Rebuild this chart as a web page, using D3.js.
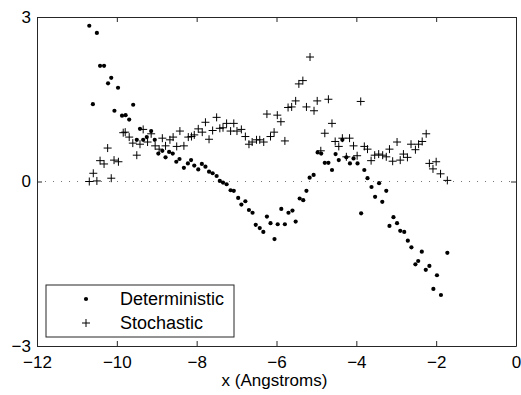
<!DOCTYPE html>
<html>
<head>
<meta charset="utf-8">
<script src="https://cdn.jsdelivr.net/npm/d3@7"></script>
<style>
  body { margin: 0; background: #fff; }
  text { font-family: "Liberation Sans", Arial, sans-serif; }
</style>
</head>
<body>
<svg id="chart" width="521" height="395"></svg>
<script>
// Deterministic series (x in Angstroms, y)
const detX = [-10.69,-10.60,-10.50,-10.42,-10.32,-10.22,-10.14,-10.06,-9.97,-9.87,-9.78,-9.69,-9.59,-9.50,-9.42,-9.34,-9.25,-9.14,-9.05,-8.96,
  -8.86,-8.78,-8.69,-8.60,-8.51,-8.43,-8.32,-8.22,-8.14,-8.06,-7.96,-7.87,-7.78,-7.69,-7.60,-7.50,-7.42,-7.34,-7.25,-7.15,
  -7.07,-6.96,-6.88,-6.78,-6.69,-6.60,-6.52,-6.42,-6.33,-6.24,-6.15,-6.05,-5.97,-5.88,-5.79,-5.70,-5.60,-5.52,-5.42,-5.33,
  -5.25,-5.17,-5.07,-4.97,-4.88,-4.79,-4.70,-4.61,-4.52,-4.44,-4.35,-4.25,-4.16,-4.07,-3.97,-3.88,-3.80,-3.72,-3.62,-3.53,
  -3.43,-3.35,-3.25,-3.17,-3.07,-2.98,-2.90,-2.80,-2.71,-2.62,-2.52,-2.45,-2.36,-2.26,-2.17,-2.07,-1.98,-1.88,-1.72];
const detY = [2.84,1.41,2.71,2.11,2.11,1.79,1.89,1.29,1.71,1.20,1.21,1.13,1.40,0.76,0.96,0.76,0.81,0.92,0.76,0.51,
  0.56,0.44,0.54,0.51,0.36,0.41,0.25,0.33,0.39,0.29,0.22,0.32,0.27,0.18,0.15,0.10,0.01,-0.02,-0.05,-0.16,
  -0.17,-0.30,-0.42,-0.36,-0.52,-0.57,-0.79,-0.85,-0.92,-0.64,-0.76,-1.05,-0.78,-0.50,-0.78,-0.57,-0.53,-0.73,-0.31,-0.34,
  -0.17,0.07,0.12,0.53,0.51,0.34,0.34,0.21,0.50,0.39,0.76,0.44,0.33,0.42,0.33,-0.58,0.21,0.06,-0.10,-0.28,
  -0.03,-0.37,-0.17,-0.81,-0.65,-0.76,-0.90,-0.92,-1.08,-1.20,-1.51,-1.45,-1.28,-1.61,-1.54,-1.96,-1.71,-2.07,-1.30];

// Stochastic series
const stoX = [-10.69,-10.59,-10.50,-10.42,-10.32,-10.23,-10.14,-10.07,-9.96,-9.84,-9.79,-9.69,-9.60,-9.50,-9.42,-9.34,-9.23,-9.14,-9.04,-8.94,
  -8.86,-8.78,-8.67,-8.59,-8.50,-8.42,-8.32,-8.21,-8.13,-8.06,-7.96,-7.86,-7.78,-7.69,-7.60,-7.50,-7.42,-7.34,-7.25,-7.15,
  -7.07,-6.99,-6.88,-6.78,-6.69,-6.61,-6.50,-6.42,-6.32,-6.24,-6.15,-6.06,-5.98,-5.89,-5.79,-5.71,-5.62,-5.52,-5.44,-5.34,
  -5.25,-5.16,-5.06,-4.98,-4.89,-4.79,-4.70,-4.61,-4.53,-4.44,-4.35,-4.25,-4.17,-4.07,-3.98,-3.89,-3.80,-3.72,-3.63,-3.54,
  -3.44,-3.34,-3.25,-3.17,-3.09,-2.98,-2.90,-2.82,-2.72,-2.63,-2.52,-2.44,-2.35,-2.25,-2.17,-2.08,-2.00,-1.89,-1.72];
const stoY = [0.00,0.15,0.01,0.38,0.32,0.61,0.06,0.39,0.36,0.89,0.90,0.81,0.70,0.48,0.68,0.95,0.72,0.87,0.65,0.59,
  0.79,0.65,0.76,0.81,0.64,0.92,0.65,0.81,0.82,0.85,0.96,0.90,1.08,0.77,0.93,1.17,0.97,0.98,1.06,0.92,
  1.06,0.92,0.95,0.82,0.68,0.72,0.76,0.76,0.72,1.23,0.82,0.90,1.21,1.09,0.74,1.35,1.36,1.47,1.78,1.84,
  1.36,2.27,1.29,1.47,0.56,0.88,1.50,1.06,0.73,0.64,0.79,0.45,0.79,0.65,0.47,1.46,0.64,0.59,0.38,0.48,
  0.50,0.48,0.45,0.59,0.37,0.72,0.39,0.50,0.44,0.68,0.58,0.68,0.73,0.87,0.33,0.23,0.36,0.14,0.02];

const xTicks = [-12, -10, -8, -6, -4, -2, 0];
const yTicks = [-3, 0, 3];
const seriesNames = ["Deterministic", "Stochastic"];

const margin = { top: 17, right: 5, bottom: 49, left: 37 };
const width = 521 - margin.left - margin.right;
const height = 395 - margin.top - margin.bottom;
const axisColor = "#262626";

const svg = d3.select("#chart");
const g = svg.append("g").attr("transform", `translate(${margin.left},${margin.top})`);

const x = d3.scaleLinear().domain([-12, 0]).range([0, width]);
const y = d3.scaleLinear().domain([-3, 3]).range([height, 0]);

// zero reference line
g.append("line")
  .attr("x1", 0).attr("x2", width)
  .attr("y1", y(0)).attr("y2", y(0))
  .attr("stroke", "#777").attr("stroke-width", 1)
  .attr("stroke-dasharray", "1,7");

// data
const det = detX.map((v, i) => [v, detY[i]]);
const sto = stoX.map((v, i) => [v, stoY[i]]);

g.selectAll("circle.det")
  .data(det)
  .enter()
  .append("circle")
  .attr("class", "det")
  .attr("cx", d => x(d[0]))
  .attr("cy", d => y(d[1]))
  .attr("r", 2.1)
  .attr("fill", "#000");

const plus = (sel, s) => sel.attr("d", `M${-s},0H${s}M0,${-s}V${s}`)
  .attr("stroke", "#000").attr("stroke-width", 1).attr("fill", "none");

g.selectAll("path.sto")
  .data(sto)
  .enter()
  .append("path")
  .attr("class", "sto")
  .attr("transform", d => `translate(${x(d[0])},${y(d[1])})`)
  .call(plus, 4);

// axes box with inward ticks
const fmt = d => d3.format("")(d).replace("-", "\u2212");
const axBottom = g.append("g").attr("transform", `translate(0,${height})`)
  .call(d3.axisBottom(x).tickValues(xTicks).tickSizeInner(-5).tickSizeOuter(0).tickPadding(10).tickFormat(fmt));
const axLeft = g.append("g")
  .call(d3.axisLeft(y).tickValues(yTicks).tickSizeInner(-5).tickSizeOuter(0).tickPadding(6).tickFormat(fmt));
const axTop = g.append("g")
  .call(d3.axisTop(x).tickValues(xTicks).tickSizeInner(-5).tickSizeOuter(0).tickFormat(""));
const axRight = g.append("g").attr("transform", `translate(${width},0)`)
  .call(d3.axisRight(y).tickValues(yTicks).tickSizeInner(-5).tickSizeOuter(0).tickFormat(""));

[axBottom, axLeft, axTop, axRight].forEach(a => {
  a.selectAll("path, line").attr("stroke", axisColor);
  a.selectAll("text").attr("fill", "#000").style("font-size", "17px");
});

svg.append("text")
  .attr("x", margin.left + width / 2 - 2)
  .attr("y", 386)
  .attr("text-anchor", "middle")
  .style("font-size", "17px")
  .text("x (Angstroms)");

// legend
const legend = g.append("g").attr("transform", `translate(${46 - margin.left},${285 - margin.top})`);
legend.append("rect")
  .attr("width", 188).attr("height", 52)
  .attr("fill", "#fff").attr("stroke", axisColor);
legend.append("circle").attr("cx", 40).attr("cy", 14).attr("r", 2.1).attr("fill", "#000");
legend.append("path").attr("transform", "translate(40,38)").call(plus, 4);
legend.selectAll("text.lab")
  .data(seriesNames)
  .enter()
  .append("text")
  .attr("class", "lab")
  .attr("x", 74)
  .attr("y", (d, i) => 14 + i * 24)
  .attr("dy", "0.36em")
  .style("font-size", "18px")
  .text(d => d);
</script>
</body>
</html>
